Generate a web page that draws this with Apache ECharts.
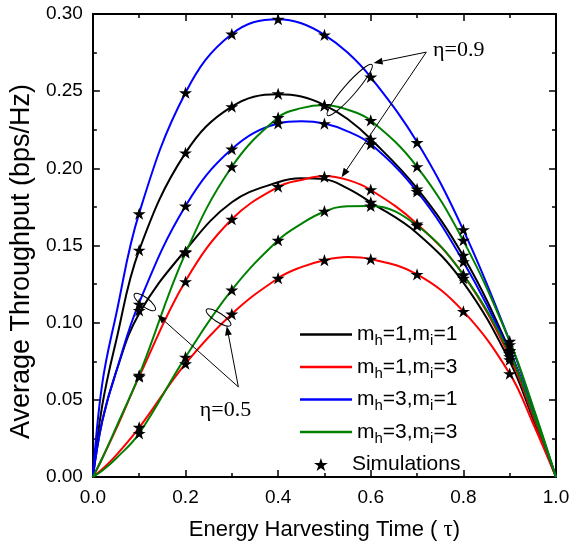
<!DOCTYPE html>
<html><head><meta charset="utf-8">
<script src="https://cdn.jsdelivr.net/npm/echarts@6/dist/echarts.min.js"></script>
<style>html,body{margin:0;padding:0;background:#fff}#c{width:581px;height:546px}</style>
</head><body><div id="c"></div>
<script>
// ---- data ----
const lineTau = [0, 0.02, 0.05, 0.1, 0.2, 0.3, 0.4, 0.45, 0.5, 0.55, 0.6, 0.7, 0.8, 0.9, 0.95, 1.0];
// analytical curves, eta = 0.9
const mh1mi1_eta09 = [0, 0.046, 0.088, 0.147, 0.210, 0.240, 0.248, 0.2465, 0.241, 0.232, 0.219, 0.187, 0.143, 0.082, 0.042, 0];
const mh1mi3_eta09 = [0, 0.012, 0.031, 0.065, 0.127, 0.167, 0.188, 0.1925, 0.195, 0.1925, 0.186, 0.164, 0.131, 0.078, 0.040, 0];
const mh3mi1_eta09 = [0, 0.060, 0.105, 0.171, 0.249, 0.287, 0.2966, 0.294, 0.2865, 0.275, 0.259, 0.217, 0.160, 0.088, 0.045, 0];
const mh3mi3_eta09 = [0, 0.012, 0.032, 0.066, 0.145, 0.201, 0.233, 0.239, 0.241, 0.238, 0.231, 0.201, 0.153, 0.088, 0.046, 0];
// analytical curves, eta = 0.5
const mh1mi1_eta05 = [0, 0.036, 0.068, 0.106, 0.147, 0.178, 0.191, 0.1935, 0.193, 0.187, 0.178, 0.158, 0.126, 0.075, 0.038, 0];
const mh1mi3_eta05 = [0, 0.005, 0.014, 0.032, 0.0734, 0.1056, 0.1288, 0.136, 0.1405, 0.1425, 0.1412, 0.1313, 0.1073, 0.067, 0.035, 0];
const mh3mi1_eta05 = [0, 0.036, 0.068, 0.113, 0.1756, 0.2125, 0.229, 0.2305, 0.229, 0.224, 0.2157, 0.185, 0.1395, 0.081, 0.042, 0];
const mh3mi3_eta05 = [0, 0.004, 0.012, 0.0283, 0.0777, 0.1212, 0.1534, 0.164, 0.172, 0.1755, 0.1756, 0.163, 0.131, 0.080, 0.042, 0];
// simulation stars (tau = 0.1 ... 0.9), null where no star is drawn
const simTau = [0.1, 0.2, 0.3, 0.4, 0.5, 0.6, 0.7, 0.8, 0.9];
const sim_mh1mi1_eta09 = [0.147, 0.210, 0.240, 0.2483, 0.2408, 0.2189, 0.1867, 0.1438, 0.082];
const sim_mh1mi3_eta09 = [0.065, 0.1266, 0.167, 0.1882, 0.1946, 0.1862, 0.164, 0.1309, 0.078];
const sim_mh3mi1_eta09 = [0.1706, 0.249, 0.287, 0.2966, 0.2865, 0.2592, 0.2167, 0.1603, 0.088];
const sim_mh3mi3_eta09 = [0.0659, 0.1455, 0.201, 0.2329, 0.2408, 0.2311, 0.2011, 0.1534, 0.0858];
const sim_mh1mi1_eta05 = [0.108, 0.146, null, null, null, 0.178, null, 0.1288, 0.076];
const sim_mh1mi3_eta05 = [0.0322, 0.0734, 0.1056, 0.1288, 0.1405, 0.1412, 0.1313, 0.1073, 0.067];
const sim_mh3mi1_eta05 = [0.112, 0.1756, 0.2125, 0.2292, 0.229, 0.2157, 0.185, 0.1395, 0.0816];
const sim_mh3mi3_eta05 = [0.0283, 0.0777, 0.1212, 0.1534, 0.1723, 0.1756, 0.163, 0.131, 0.080];
const xTicks = [0, 0.2, 0.4, 0.6, 0.8, 1.0];
const yTicks = [0, 0.05, 0.10, 0.15, 0.20, 0.25, 0.30];

const legendNames = ['m_h=1,m_i=1', 'm_h=1,m_i=3', 'm_h=3,m_i=1', 'm_h=3,m_i=3'];
const curveColors = ['#000000', '#ff0000', '#0000ff', '#008000'];
const curves = [
  [mh1mi1_eta09, mh1mi1_eta05],
  [mh1mi3_eta09, mh1mi3_eta05],
  [mh3mi1_eta09, mh3mi1_eta05],
  [mh3mi3_eta09, mh3mi3_eta05]
];
const sims = [sim_mh1mi1_eta09, sim_mh1mi3_eta09, sim_mh3mi1_eta09, sim_mh3mi3_eta09,
              sim_mh1mi1_eta05, sim_mh1mi3_eta05, sim_mh3mi1_eta05, sim_mh3mi3_eta05];

// annotations (data coordinates)
const annoTexts = [{ text: 'η=0.9', at: [0.790, 0.2768] }, { text: 'η=0.5', at: [0.2863, 0.0431] }];
const annoArrows = [
  { from: [0.720, 0.2753], to: [0.6062, 0.2683] },
  { from: [0.720, 0.2753], to: [0.537, 0.1942] },
  { from: [0.3141, 0.0584], to: [0.1395, 0.1051] },
  { from: [0.3141, 0.0584], to: [0.2891, 0.0977] }
];
const annoEllipses = [
  { a: [0.5064, 0.2343], b: [0.6026, 0.2672] },
  { a: [0.0897, 0.1185], b: [0.1346, 0.1082] },
  { a: [0.2451, 0.1084], b: [0.2976, 0.0983] }
];
const ellipseRy = [6, 4.5, 4.5];

// ---- chart ----
const SANS = 'Liberation Sans, Arial, sans-serif';
const SERIF = 'Liberation Serif, Times New Roman, serif';
const chart = echarts.init(document.getElementById('c'), null, { renderer: 'canvas' });

const starPath = 'path://M50,0 L61.8,35.1 L98.9,35.1 L68.9,56.9 L80.3,91.9 L50,70.2 L19.7,91.9 L31.1,56.9 L1.1,35.1 L38.2,35.1 Z';

const series = [];
curves.forEach((pair, ci) => {
  pair.forEach(vals => {
    series.push({
      name: legendNames[ci], type: 'line', smooth: 0.4, symbol: 'none', showSymbol: false,
      data: lineTau.map((t, i) => [t, vals[i]]),
      lineStyle: { color: curveColors[ci], width: 2 },
      itemStyle: { color: curveColors[ci] },
      z: 2, animation: false
    });
  });
});
const simData = [];
sims.forEach(arr => arr.forEach((v, i) => { if (v !== null) simData.push([simTau[i], v]); }));
series.push({
  name: 'Simulations', type: 'scatter', symbol: starPath, symbolSize: 13, symbolKeepAspect: true,
  data: simData, itemStyle: { color: '#000', opacity: 1 }, z: 5, animation: false
});

function axisCommon(showLabel) {
  return {
    axisLine: { onZero: false, lineStyle: { color: '#000', width: 2 } },
    axisTick: { show: true, inside: true, length: 7, lineStyle: { color: '#000', width: 1.5 } },
    minorTick: { show: true, splitNumber: 2, length: 4, lineStyle: { color: '#000', width: 1.5 } },
    splitLine: { show: false },
    axisLabel: { show: showLabel }
  };
}

const legendRich = {
  t: { fontSize: 21, fontFamily: SANS, color: '#000', lineHeight: 28 },
  s: { fontSize: 15, fontFamily: SANS, color: '#000', lineHeight: 15, verticalAlign: 'bottom' }
};
function legendFmt(name) {
  if (name === 'Simulations') return '{t|Simulations}';
  const m = name.match(/m_h=(\d),m_i=(\d)/);
  return '{t|m}{s|h}{t|=' + m[1] + ',m}{s|i}{t|=' + m[2] + '}';
}
const legendRowCenters = [333, 365.5, 398, 430.5, 463];
const legends = legendNames.concat(['Simulations']).map((n, k) => ({
  orient: 'vertical', left: n === 'Simulations' ? 309 : 295, top: legendRowCenters[k] - 14,
  itemWidth: 52, itemHeight: n === 'Simulations' ? 13 : 2.5,
  icon: n === 'Simulations' ? starPath : 'rect', symbolKeepAspect: true,
  data: [n], formatter: legendFmt, textStyle: { rich: legendRich }, selectedMode: false
}));

const option = {
  animation: false,
  backgroundColor: '#fff',
  grid: { left: 88, right: 25, top: 14, bottom: 66, containLabel: false },
  xAxis: [
    Object.assign(axisCommon(true), {
      type: 'value', min: 0, max: 1, interval: 0.2, position: 'bottom',
      axisLabel: { show: true, fontSize: 19, fontFamily: SANS, color: '#000', margin: 11,
        formatter: v => (xTicks.some(t => Math.abs(t - v) < 1e-9) ? v.toFixed(1) : '') },
      name: 'Energy Harvesting Time ( {tau|τ})', nameLocation: 'middle', nameGap: 41,
      nameTextStyle: { fontSize: 22, fontFamily: SANS, color: '#000',
        rich: { tau: { fontSize: 23, fontFamily: SERIF, color: '#000' } } }
    }),
    Object.assign(axisCommon(false), { type: 'value', min: 0, max: 1, interval: 0.2, position: 'top' })
  ],
  yAxis: [
    Object.assign(axisCommon(true), {
      type: 'value', min: 0, max: 0.30, interval: 0.05, position: 'left',
      axisLabel: { show: true, fontSize: 19, fontFamily: SANS, color: '#000', margin: 10,
        formatter: v => (yTicks.some(t => Math.abs(t - v) < 1e-9) ? v.toFixed(2) : '') },
      name: 'Average Throughput (bps/Hz)', nameLocation: 'middle', nameGap: 49,
      nameTextStyle: { fontSize: 27, fontFamily: SANS, color: '#000', padding: [0, 32, 0, 0] }
    }),
    Object.assign(axisCommon(false), { type: 'value', min: 0, max: 0.30, interval: 0.05, position: 'right' })
  ],
  legend: legends,
  series: series
};
chart.setOption(option);

// ---- annotations via the chart's own coordinate conversion ----
function px(p) { return chart.convertToPixel({ gridIndex: 0 }, p); }
const elements = [];
annoEllipses.forEach((e, k) => {
  const a = px(e.a), b = px(e.b);
  const cx = (a[0] + b[0]) / 2, cy = (a[1] + b[1]) / 2;
  const rx = Math.hypot(b[0] - a[0], b[1] - a[1]) / 2;
  elements.push({
    type: 'ellipse', x: cx, y: cy, rotation: -Math.atan2(b[1] - a[1], b[0] - a[0]),
    shape: { cx: 0, cy: 0, rx: rx, ry: ellipseRy[k] },
    style: { fill: 'none', stroke: '#000', lineWidth: 1 }, z: 10
  });
});
annoArrows.forEach(ar => {
  const f = px(ar.from), t = px(ar.to);
  const ang = Math.atan2(t[1] - f[1], t[0] - f[0]);
  const L = 9, W = 3.5;
  const bx = t[0] - L * Math.cos(ang), by = t[1] - L * Math.sin(ang);
  elements.push({
    type: 'line', shape: { x1: f[0], y1: f[1], x2: bx, y2: by },
    style: { stroke: '#000', lineWidth: 1 }, z: 10
  });
  elements.push({
    type: 'polygon', shape: { points: [t, [bx + W * Math.sin(ang), by - W * Math.cos(ang)], [bx - W * Math.sin(ang), by + W * Math.cos(ang)]] },
    style: { fill: '#000' }, z: 10
  });
});
annoTexts.forEach(tx => {
  const p = px(tx.at);
  elements.push({
    type: 'text', x: p[0], y: p[1],
    style: { text: tx.text, fontSize: 22, fontFamily: SERIF, fill: '#000', align: 'center', verticalAlign: 'middle', textAlign: 'center', textVerticalAlign: 'middle' },
    z: 10
  });
});
chart.setOption({ graphic: { elements: elements } });
</script>
</body></html>
